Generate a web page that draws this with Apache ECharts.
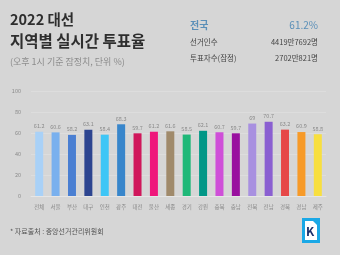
<!DOCTYPE html>
<html>
<head>
<meta charset="utf-8">
<script src="https://cdn.jsdelivr.net/npm/echarts@6/dist/echarts.min.js"></script>
<style>
html,body{margin:0;padding:0;background:#d6d6d6;}
#main{width:340px;height:255px;}
</style>
</head>
<body>
<div id="main"></div>
<script>
// 지역별 투표율 데이터
var regions = ['전체', '서울', '부산', '대구', '인천', '광주', '대전', '울산', '세종', '경기', '강원', '충북', '충남', '전북', '전남', '경북', '경남', '제주'];
var rates = [61.2, 60.6, 58.2, 63.1, 58.4, 68.3, 59.7, 61.2, 61.6, 58.5, 62.1, 60.7, 59.7, 69, 70.7, 63.2, 60.9, 58.8];
var barColors = ['#a9d1f7', '#79b0ee', '#4a7fd2', '#2d4590', '#3ec6f6', '#3886cb', '#d0175b', '#ef177b', '#a08a6b', '#1fb878', '#019787', '#cf4fd8', '#99109f', '#a890e0', '#8a5fd1', '#e64848', '#f79a28', '#f8df3f'];
var yTicks = [0, 20, 40, 60, 80, 100];

var font = '"Noto Sans CJK KR", sans-serif';
var myChart = echarts.init(document.getElementById('main'));

var option = {
    backgroundColor: '#d6d6d6',
    textStyle: {fontFamily: font},
    grid: {left: 31, right: 14, top: 91, bottom: 59},
    xAxis: {
        type: 'category',
        data: regions,
        axisTick: {show: false},
        axisLine: {lineStyle: {color: '#e6e6e6'}},
        axisLabel: {fontSize: 5.5, color: '#8a8a8a', margin: 8, interval: 0, fontFamily: font}
    },
    yAxis: {
        type: 'value',
        min: yTicks[0],
        max: yTicks[yTicks.length - 1],
        interval: 20,
        axisLabel: {fontSize: 5.5, color: '#8a8a8a', margin: 10, fontFamily: font},
        splitLine: {lineStyle: {color: '#e2e2e2', width: 0.6}},
        axisLine: {show: false},
        axisTick: {show: false}
    },
    series: [{
        type: 'bar',
        barWidth: 8,
        data: rates.map(function (v, i) {
            return {value: v, itemStyle: {color: barColors[i]}};
        }),
        label: {show: true, position: 'top', distance: 3, fontSize: 5.5, color: '#8a8a8a', fontFamily: font}
    }],
    graphic: [
        {type: 'text', left: 10, top: 12, style: {text: '2022 대선', font: 'bold 14.5px ' + font, fill: '#2e2e2e'}},
        {type: 'text', left: 10, top: 33, style: {text: '지역별 실시간 투표율', font: 'bold 15.5px ' + font, fill: '#2e2e2e'}},
        {type: 'text', left: 10, top: 57, style: {text: '(오후 1시 기준 잠정치, 단위 %)', font: '9px ' + font, fill: '#8c8c8c'}},
        {type: 'text', left: 190, top: 20, style: {text: '전국', font: 'bold 10px ' + font, fill: '#5a8fb8'}},
        {type: 'text', right: 22, top: 20, style: {text: '61.2%', font: '10px ' + font, fill: '#5a8fb8', align: 'right'}},
        {type: 'text', left: 190, top: 38, style: {text: '선거인수', font: '7.5px ' + font, fill: '#444'}},
        {type: 'text', right: 22, top: 38, style: {text: '4419만7692명', font: '7.5px ' + font, fill: '#444', align: 'right'}},
        {type: 'text', left: 190, top: 54, style: {text: '투표자수(잠정)', font: '7.5px ' + font, fill: '#444'}},
        {type: 'text', right: 22, top: 54, style: {text: '2702만821명', font: '7.5px ' + font, fill: '#444', align: 'right'}},
        {type: 'text', left: 10, top: 228, style: {text: '* 자료출처 : 중앙선거관리위원회', font: '7px ' + font, fill: '#555'}},
        {type: 'rect', left: 302, top: 218, shape: {width: 18, height: 25}, style: {fill: '#1aa8e6'}},
        {type: 'polygon', shape: {points: [[305, 221], [313, 221], [317, 225], [317, 240], [305, 240]]}, style: {fill: '#ffffff'}},
        {type: 'text', left: 306, top: 225, style: {text: 'K', font: 'bold 12px ' + font, fill: '#1b2f6b'}}
    ]
};
myChart.setOption(option);
</script>
</body>
</html>
